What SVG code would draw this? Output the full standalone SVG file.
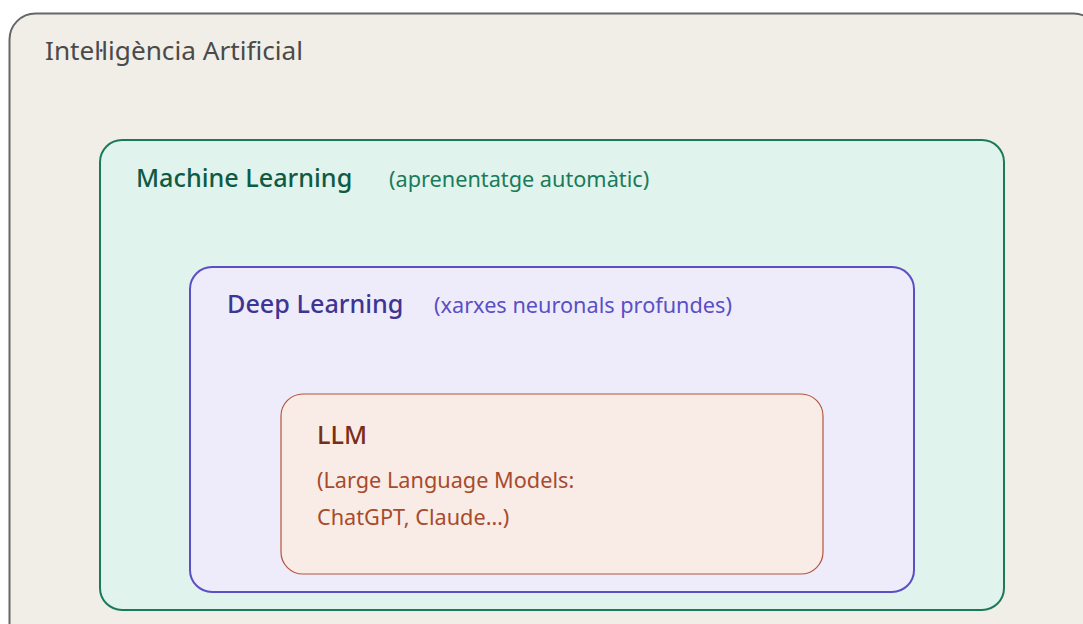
<svg xmlns="http://www.w3.org/2000/svg" width="1083" height="624" viewBox="0 0 1083 624">
<style>
text{font-family:"Noto Sans","Open Sans","DejaVu Sans",sans-serif}
.h{font-weight:500}
.ai{fill:#f1eee8;stroke:#666;stroke-width:2}
.ml{fill:#e0f3ec;stroke:#1b7a5a;stroke-width:2}
.dl{fill:#eeecfb;stroke:#5a4fc4;stroke-width:2}
.llm{fill:#f9ece6;stroke:#b3553a;stroke-width:1.2}
</style>
<rect width="1083" height="624" fill="#ffffff"/>
<g id="ia">
<rect class="ai" x="9.5" y="13.5" width="1090" height="640" rx="26"/>
<text x="45" y="60" font-size="26.2" fill="#4a4a4a">Inteŀligència Artificial</text>
</g>
<g id="ml">
<rect class="ml" x="100" y="140" width="904" height="470" rx="22"/>
<text class="h" x="136" y="187" font-size="25.2" fill="#0f5a44">Machine Learning</text>
<text x="389" y="187" font-size="21.7" fill="#1b7a5a">(aprenentatge automàtic)</text>
</g>
<g id="dl">
<rect class="dl" x="190" y="267" width="724" height="325" rx="22"/>
<text class="h" x="227" y="313" font-size="25.2" fill="#3d3591">Deep Learning</text>
<text x="434" y="313" font-size="21.7" fill="#5a4fc4">(xarxes neuronals profundes)</text>
</g>
<g id="llm">
<rect class="llm" x="281" y="394" width="542" height="180" rx="22"/>
<text class="h" x="317" y="444" font-size="25.2" fill="#7a2e18">LLM</text>
<text x="317" y="488" font-size="21.7" fill="#a84a2c">(Large Language Models:</text>
<text x="317" y="525" font-size="21.7" fill="#a84a2c">ChatGPT, Claude…)</text>
</g>
<g id="connectors"/>
</svg>
